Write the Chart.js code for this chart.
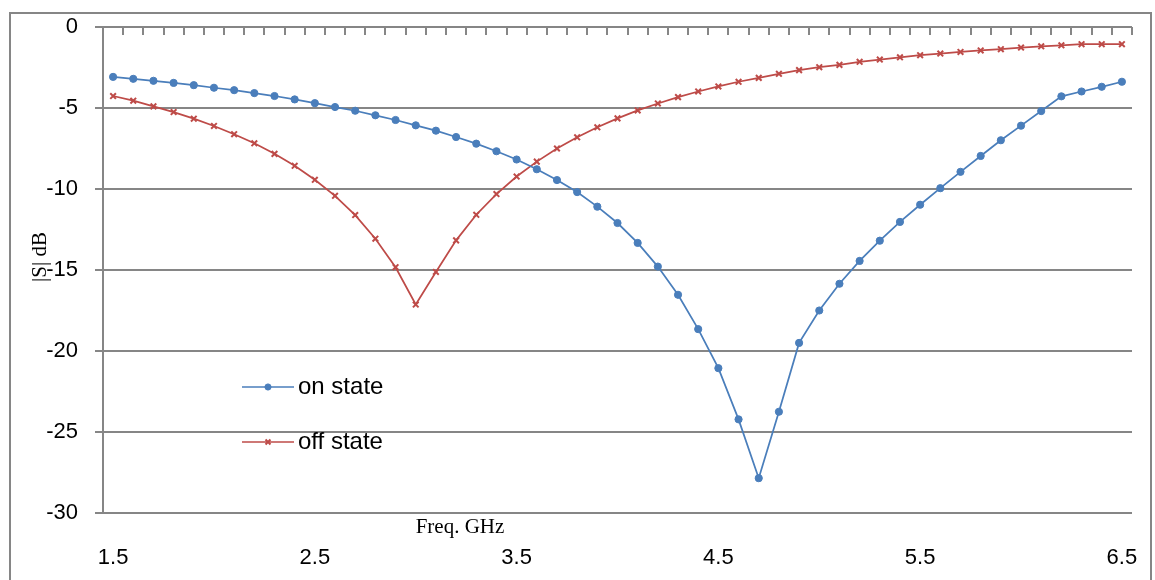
<!DOCTYPE html>
<html>
<head>
<meta charset="utf-8">
<script src="https://cdn.jsdelivr.net/npm/chart.js@4/dist/chart.umd.min.js"></script>
<style>
  html, body { margin: 0; padding: 0; background: #fff; }
  #wrap { width: 1155px; height: 580px; }
</style>
</head>
<body>
<div id="wrap"><canvas id="chart" width="1155" height="580"></canvas></div>
<script>
// Frequency sweep 1.5 .. 6.5 GHz in 0.1 GHz steps
const freqs = [
  1.5, 1.6, 1.7, 1.8, 1.9, 2.0, 2.1, 2.2, 2.3, 2.4,
  2.5, 2.6, 2.7, 2.8, 2.9, 3.0, 3.1, 3.2, 3.3, 3.4,
  3.5, 3.6, 3.7, 3.8, 3.9, 4.0, 4.1, 4.2, 4.3, 4.4,
  4.5, 4.6, 4.7, 4.8, 4.9, 5.0, 5.1, 5.2, 5.3, 5.4,
  5.5, 5.6, 5.7, 5.8, 5.9, 6.0, 6.1, 6.2, 6.3, 6.4, 6.5
];

// |S| in dB, switch on
const onState = [
  -3.08, -3.20, -3.32, -3.45, -3.59, -3.75, -3.90, -4.08, -4.26, -4.47,
  -4.70, -4.94, -5.17, -5.45, -5.74, -6.07, -6.40, -6.79, -7.20, -7.67,
  -8.18, -8.78, -9.45, -10.19, -11.09, -12.10, -13.33, -14.79, -16.53, -18.65,
  -21.06, -24.22, -27.85, -23.75, -19.50, -17.50, -15.85, -14.44, -13.19, -12.03,
  -10.97, -9.95, -8.94, -7.96, -6.99, -6.09, -5.19, -4.28, -3.98, -3.69, -3.38
];

// |S| in dB, switch off
const offState = [
  -4.26, -4.55, -4.90, -5.25, -5.66, -6.11, -6.62, -7.18, -7.83, -8.57,
  -9.43, -10.42, -11.61, -13.07, -14.83, -17.13, -15.12, -13.17, -11.59, -10.31,
  -9.23, -8.31, -7.50, -6.81, -6.19, -5.64, -5.15, -4.72, -4.33, -3.98,
  -3.67, -3.38, -3.14, -2.89, -2.66, -2.48, -2.34, -2.15, -2.01, -1.87,
  -1.74, -1.64, -1.54, -1.45, -1.37, -1.27, -1.19, -1.13, -1.06, -1.06, -1.06
];

const xTickLabels = ['1.5', '2.5', '3.5', '4.5', '5.5', '6.5'];
const yTickValues = [0, -5, -10, -15, -20, -25, -30];

const seriesNames = ['on state', 'off state'];
const AXIS_GRAY = '#868686';
const TICK_FONT = { family: 'Liberation Sans, Arial, sans-serif', size: 22 };

function toPoints(ys) {
  return freqs.map((f, i) => ({ x: f, y: ys[i] }));
}

// Frame, top axis tick marks, axis titles and the in-plot legend
const decorations = {
  id: 'decorations',
  beforeDraw(chart) {
    const ctx = chart.ctx;
    ctx.save();
    ctx.strokeStyle = AXIS_GRAY;
    ctx.lineWidth = 2;
    ctx.strokeRect(10, 13, 1141, 600);
    ctx.restore();
  },
  afterDraw(chart) {
    const ctx = chart.ctx;
    const xs = chart.scales.x;
    const ys = chart.scales.y;
    const top = ys.getPixelForValue(0);

    // category boundary ticks hanging from the 0 dB axis line
    ctx.save();
    ctx.strokeStyle = AXIS_GRAY;
    ctx.lineWidth = 2;
    ctx.beginPath();
    for (let k = 0; k <= freqs.length; k++) {
      const px = Math.round(xs.getPixelForValue(freqs[0] - 0.05 + 0.1 * k));
      ctx.moveTo(px, top);
      ctx.lineTo(px, top + 8);
    }
    ctx.stroke();

    // axis titles
    ctx.fillStyle = '#000';
    ctx.font = '21px "Liberation Serif", "Times New Roman", serif';
    ctx.textAlign = 'center';
    ctx.textBaseline = 'middle';
    ctx.fillText('Freq. GHz', 460, 527);
    ctx.translate(40, 257);
    ctx.rotate(-Math.PI / 2);
    ctx.fillText('|S| dB', 0, 0);
    ctx.restore();

    // legend inside the plot area
    const rows = [387, 442];
    chart.data.datasets.forEach((ds, i) => {
      const y = rows[i];
      ctx.save();
      ctx.strokeStyle = ds.borderColor;
      ctx.fillStyle = ds.backgroundColor;
      ctx.lineWidth = 1.5;
      ctx.beginPath();
      ctx.moveTo(242, y);
      ctx.lineTo(294, y);
      ctx.stroke();
      if (Chart.helpers && Chart.helpers.drawPoint) {
        ctx.lineWidth = ds.pointBorderWidth;
        Chart.helpers.drawPoint(ctx, {
          pointStyle: ds.pointStyle, radius: ds.pointRadius - 0.5,
          borderWidth: ds.pointBorderWidth, rotation: 0
        }, 268, y);
      }
      ctx.fillStyle = '#000';
      ctx.font = '24px "Liberation Sans", Arial, sans-serif';
      ctx.textAlign = 'left';
      ctx.textBaseline = 'middle';
      ctx.fillText(seriesNames[i], 298, y);
      ctx.restore();
    });
  }
};

const chart = new Chart(document.getElementById('chart'), {
  type: 'line',
  data: {
    datasets: [
      {
        label: seriesNames[0],
        data: toPoints(onState),
        borderColor: '#4a7ebb',
        backgroundColor: '#4a7ebb',
        borderWidth: 1.75,
        pointStyle: 'circle',
        pointRadius: 3.6,
        pointBorderWidth: 1,
        tension: 0
      },
      {
        label: seriesNames[1],
        data: toPoints(offState),
        borderColor: '#be4b48',
        backgroundColor: '#be4b48',
        borderWidth: 1.75,
        pointStyle: 'crossRot',
        pointRadius: 4,
        pointBorderWidth: 2,
        tension: 0
      }
    ]
  },
  options: {
    responsive: false,
    animation: false,
    devicePixelRatio: 1,
    layout: { padding: { top: 27, right: 23, left: 0, bottom: 0 } },
    plugins: {
      legend: { display: false },
      tooltip: { enabled: false }
    },
    scales: {
      x: {
        type: 'linear',
        position: 'bottom',
        min: freqs[0] - 0.05,
        max: freqs[freqs.length - 1] + 0.05,
        afterBuildTicks: (scale) => {
          scale.ticks = xTickLabels.map(v => ({ value: parseFloat(v) }));
        },
        afterFit: (scale) => {
          // fixed box; label overflow is already covered by the layout padding
          scale.height = 67;
          scale.paddingLeft = 0;
          scale.paddingRight = 0;
        },
        grid: { display: false, drawTicks: false },
        border: { display: false },
        ticks: {
          color: '#000',
          font: TICK_FONT,
          padding: 32,
          maxRotation: 0,
          autoSkip: false,
          callback: (val) => Number(val).toFixed(1)
        }
      },
      y: {
        min: -30,
        max: 0,
        afterBuildTicks: (scale) => {
          scale.ticks = yTickValues.map(v => ({ value: v }));
        },
        afterFit: (scale) => {
          scale.width = 103;
          scale.paddingTop = 0;
          scale.paddingBottom = 0;
        },
        grid: { color: AXIS_GRAY, lineWidth: 2, tickLength: 8, tickColor: AXIS_GRAY },
        border: { display: true, color: AXIS_GRAY, width: 2 },
        ticks: {
          color: '#000',
          font: TICK_FONT,
          padding: 17
        }
      }
    }
  },
  plugins: [decorations]
});
</script>
</body>
</html>
